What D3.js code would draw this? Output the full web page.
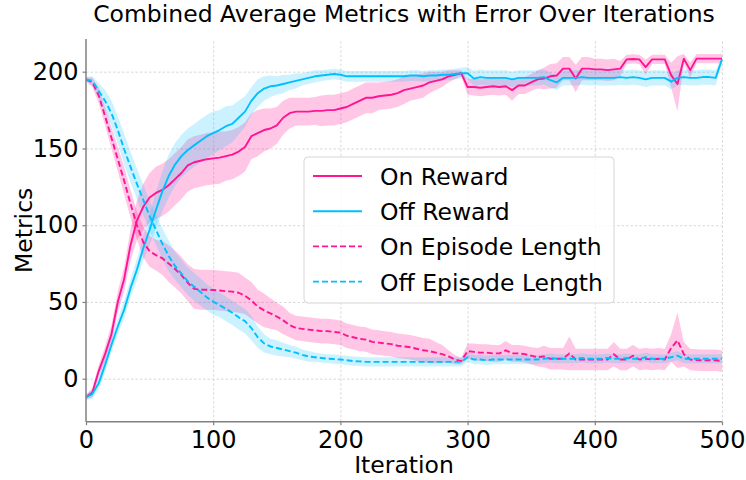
<!DOCTYPE html>
<html><head><meta charset="utf-8">
<script src="https://cdn.jsdelivr.net/npm/d3@7"></script>
<style>body{margin:0;background:#fff}svg{display:block;font-family:"DejaVu Sans",sans-serif}</style>
</head><body><svg id="c" width="746" height="480"></svg>
<script>
const iterations = [0,5,10,15,20,25,30,35,40,45,50,55,60,65,70,75,80,85,90,95,
 100,105,110,115,120,125,130,135,140,145,150,155,160,165,170,175,180,185,190,195,
 200,205,210,215,220,225,230,235,240,245,250,255,260,265,270,275,280,285,290,295,
 300,305,310,315,320,325,330,335,340,345,350,355,360,365,370,375,380,385,390,395,
 400,405,410,415,420,425,430,435,440,445,450,455,460,465,470,475,480,485,490,495,500];

const onReward = [-12,-9,5,16,29,50,65,87,103,112,
 118,121,123,126,130,134,139,141,142,143,
 143.5,144,145,146,148,151,158,160,162,163,
 165,170,173,174,174,174,174.5,174.5,175,175,
 176,177,179,181,183,183,184,184.5,185,186,
 188,189,190,191,193,194,195,197,198,199,
 190,190,189.5,190,190.5,190,190.5,188,191,191,
 193,195,195.5,197,197.5,202,202,195.6,202,202,
 201.5,201.5,201,201.5,202,208,208.3,208,203,208,
 208,208,197.8,192,208.5,201,208.5,208.5,208.5,208.5,
 208.5];
const onRewardErr = [1.5,3,4,5,6,7,8,10,13,15,
 16,17,17,17,17,17,17,17,17,17,
 17,17,16,16,16,16,15,15,14,13,
 12,11,10,9,9,9,9,10,10,10,
 10,10,10,10,10,10,9,9,9,9,
 9,8,8,8,7,6,5,4,3,2,
 5,5.5,5.5,5.5,5.5,5.5,5.5,7,5.5,5.5,
 5.5,6,7,8,8,7.5,7.5,9,7.5,7.5,
 7,7,7,7,5,3,3,3,5,3,
 3,3,8,18,3,5,3,3,3,3,
 3];

const offReward = [-12,-10,-3,9,22,34,45,59,71,85,
 97,110,122,132,139.5,145,149,152,155,158,
 160,162,164.5,166,170,174,181,186,189,190.5,
 191,192,193,194,195,196,197,197.5,198,198.5,
 198,197,197,197,197,197,197,197,197,197,
 197,197.5,197.5,197,197.5,197.5,198,198,198.5,199,
 199,195.5,196.5,196,196,196,196,195,196,196,
 196,196,196.5,194.5,193,196,196,196,196.5,196,
 196,196,196,196,196.5,196,196.5,196,195,196,
 196,196,193.5,196,196.5,196,196,196.5,196.5,196,
 208];
const offRewardErr = [2,3,4,5,5,5,6,6,7,8,
 10,12,13,14,14,14,14,14,14,14,
 14,13,13,12,11,10,9,9,8,7,
 6,6,5,5,4,4,4,3.5,3.5,3.5,
 3.5,3.5,3.5,3.5,3.5,3.5,3.5,3.5,3.5,3.5,
 3.5,3.5,3.5,3.5,3.5,3.5,3.5,3.5,3.5,3.5,
 4,5,5,5,5,5,5,5,5,5,
 5,5,5,5,5,5,5,5,5,5,
 5,5,5,5,5,5,5,5,5,5,
 5,5,5,5,5,5,5,5,5,5,
 2];

const onEpisode = [195,193,184.5,171,157,143,129,114,100,89,
 83,80.5,78.5,75,71.5,67.5,62.5,58.5,58,58,
 57.8,57.5,57,56.7,56,54,51,47,44.5,42.5,
 40.5,38,35,33,32.5,32,31.5,31,31,30.5,
 30,28,27,26,25.5,24,23.5,23,22.5,21.5,
 21,20.5,19.5,18.5,18,17,16,14.5,12.5,11.5,
 18,17.5,17,17,16.5,16.5,18.5,16.5,16.5,16,
 15,14,14.5,13,13,13,16.5,12.5,12.5,12.5,
 12.5,12.5,12.5,16,12.5,12.5,15,12.5,13,12.5,
 13,12.5,20,25,16,12.5,12.2,12,12,12,
 11.5];
const onEpisodeErr = [1.5,3,5,6,7,8,9,9,9,10,
 10,10,11,12,12,12,12,13,13,13,
 13,13,13,13,13,12,12,11,11,10,
 9,9,8,8,8,8,8,8,8,8,
 8,8,8,8,8,8,8,8,8,8,
 8,8,8,8,8,7,6,4,3,2,
 5,5.5,5.5,5.5,5.5,5.5,6,5.5,5.5,5.5,
 5.5,6,7,7,7,7,11,7,7,7,
 7,7,7,8,7,7,7,7,7,7,
 7,7,9,18,8,7,7,7,7,7,
 7];

const offEpisode = [195,194,187.5,181,173,162,149.5,138,127,116.5,
 106,97,88,80,73.5,68.5,63.5,60,56.5,53,
 50.2,48,45.5,43,40,37.5,33,27,23,21,
 20,19,18,17,15.5,14.5,14,13.5,13,12.8,
 12.5,12,11.5,11.3,11,11,11,11,11,11,
 11,11,11,11,11,11,11,11,11,11,
 14,12.5,12.5,12,12.5,12.5,12.5,12.5,12.5,12.5,
 12.5,12.5,13,13.5,13,13,13,13,13.5,13,
 13,13,13.5,13,13,13.5,13,13,14,13,
 13,13,14,15,13,13,13,13,13,13,
 13];
const offEpisodeErr = [1.5,3,5,7,8,9,10,10,10,10,
 10,10,10,10,9,9,9,9,9,8.5,
 8.5,8,8,8,8,8,8,7,6,5,
 5,4.5,4,4,3.5,3.5,3,3,3,3,
 3,3,3,3,3,3,3,3,3,3,
 3,3,3,3,3,3,3,3,3,3,
 3,3,3,3,3,3,3,3,3,3,
 3,3,3,3,3,3,3,3,3,3,
 3,3,3,3,3,3,3,3,3,3,
 3,3,3,3,3,3,3,3,3,3,
 3];

const xTicks = [0,100,200,300,400,500];
const yTicks = [0,50,100,150,200];
const seriesNames = ["On Reward","Off Reward","On Episode Length","Off Episode Length"];

const PINK = "#ff1493", BLUE = "#00bfff";
const series = [
  {name: seriesNames[0], mean: onReward, err: onRewardErr, color: PINK, dash: null, op: 0.24},
  {name: seriesNames[1], mean: offReward, err: offRewardErr, color: BLUE, dash: null, op: 0.2},
  {name: seriesNames[2], mean: onEpisode, err: onEpisodeErr, color: PINK, dash: "6,3", op: 0.24},
  {name: seriesNames[3], mean: offEpisode, err: offEpisodeErr, color: BLUE, dash: "6,3", op: 0.2}
];

const svg = d3.select("#c");
const L = 86, R = 722, T = 39, B = 421.7;
const x = d3.scaleLinear().domain([0, 500]).range([L, R]);
const y = d3.scaleLinear().domain([-28, 221.3]).range([B, T]);
const FS = 23.5;

// grid
const grid = svg.append("g");
grid.append("g").attr("transform", `translate(0,${B})`)
  .call(d3.axisBottom(x).tickValues(xTicks.filter(d => d > 0)).tickSize(-(B - T)).tickFormat(""))
  .call(g => g.select(".domain").remove())
  .selectAll("line").attr("stroke", "#cfcfcf").attr("stroke-width", 0.8).attr("stroke-dasharray", "2.5,2");
grid.append("g").attr("transform", `translate(${L},0)`)
  .call(d3.axisLeft(y).tickValues(yTicks).tickSize(-(R - L)).tickFormat(""))
  .call(g => g.select(".domain").remove())
  .selectAll("line").attr("stroke", "#cfcfcf").attr("stroke-width", 0.8).attr("stroke-dasharray", "2.5,2");

// series
const plot = svg.append("g");
series.forEach(s => {
  const pts = iterations.map((it, i) => ({it, m: s.mean[i], e: s.err[i]}));
  plot.append("path").datum(pts)
    .attr("d", d3.area().x(d => x(d.it)).y0(d => y(d.m - d.e)).y1(d => y(d.m + d.e)))
    .attr("fill", s.color).attr("fill-opacity", s.op).attr("stroke", "none");
});
series.forEach(s => {
  const pts = iterations.map((it, i) => ({it, m: s.mean[i]}));
  plot.append("path").datum(pts)
    .attr("d", d3.line().x(d => x(d.it)).y(d => y(d.m)))
    .attr("fill", "none").attr("stroke", s.color).attr("stroke-width", 1.9)
    .attr("stroke-dasharray", s.dash).attr("stroke-linejoin", "round");
});

// axes
const ax = svg.append("g").attr("transform", `translate(0,${B})`)
  .call(d3.axisBottom(x).tickValues(xTicks).tickSize(3.5).tickPadding(6));
const ay = svg.append("g").attr("transform", `translate(${L},0)`)
  .call(d3.axisLeft(y).tickValues(yTicks).tickSize(3.5).tickPadding(4));
[ax, ay].forEach(g => {
  g.select(".domain").attr("stroke", "#808080").attr("stroke-width", 1.5);
  g.selectAll(".tick line").attr("stroke", "#808080").attr("stroke-width", 1.2);
  g.selectAll(".tick text").attr("font-size", 24).attr("fill", "#000").attr("font-family", "DejaVu Sans");
});
ax.select(".domain").attr("d", `M${L},0H${R}`);
ay.select(".domain").attr("d", `M0,${T}V${B}`);

// labels
svg.append("text").attr("x", (L + R) / 2).attr("y", 21.7).attr("text-anchor", "middle")
  .attr("font-size", FS).text("Combined Average Metrics with Error Over Iterations");
svg.append("text").attr("x", (L + R) / 2).attr("y", 472.7).attr("text-anchor", "middle")
  .attr("font-size", FS).text("Iteration");
svg.append("text").attr("transform", `translate(31.7,${(T + B) / 2}) rotate(-90)`).attr("text-anchor", "middle")
  .attr("font-size", FS).text("Metrics");

// legend
const lg = svg.append("g");
lg.append("rect").attr("x", 304).attr("y", 157).attr("width", 310).attr("height", 146).attr("rx", 4)
  .attr("fill", "#fff").attr("fill-opacity", 0.8).attr("stroke", "#d6d6d6").attr("stroke-width", 1);
series.forEach((s, i) => {
  const yy = 176 + i * 35.2;
  lg.append("line").attr("x1", 313).attr("x2", 362).attr("y1", yy).attr("y2", yy)
    .attr("stroke", s.color).attr("stroke-width", 1.9).attr("stroke-dasharray", s.dash);
  lg.append("text").attr("x", 380).attr("y", yy + 9).attr("font-size", FS).text(s.name);
});
</script></body></html>
